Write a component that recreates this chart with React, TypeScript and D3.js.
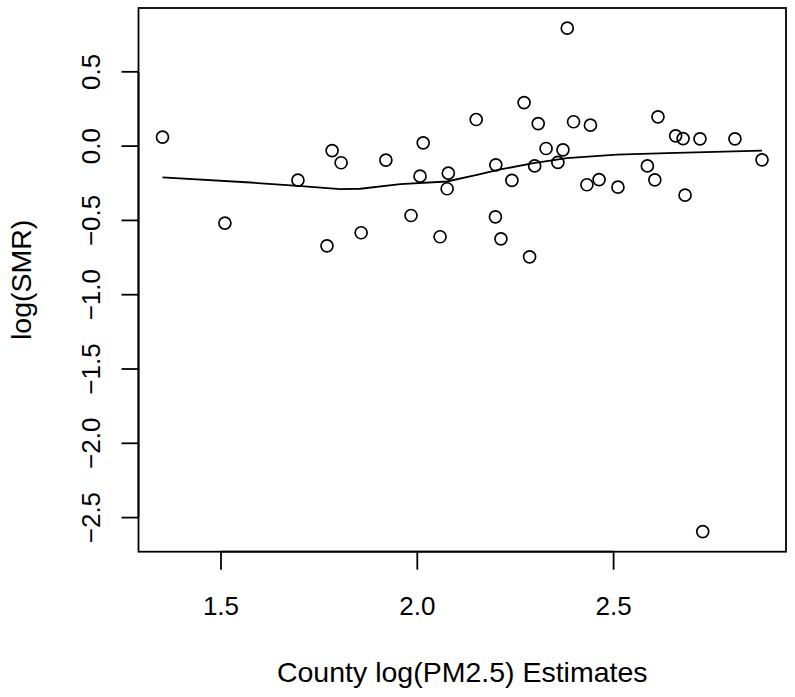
import React from "react";
import * as d3 from "d3";

const pm25 = [
  1.351, 1.510, 1.696, 1.783, 1.806, 1.770, 1.857, 1.920, 1.984, 2.015,
  2.007, 2.079, 2.076, 2.058, 2.150, 2.200, 2.199, 2.213, 2.241, 2.272,
  2.286, 2.308, 2.299, 2.328, 2.358, 2.371, 2.398, 2.441, 2.432, 2.463,
  2.511, 2.613, 2.586, 2.605, 2.658, 2.677, 2.682, 2.720, 2.809, 2.878,
  2.382, 2.727,
];
const logSMR = [
  0.061, -0.518, -0.229, -0.030, -0.112, -0.671, -0.583, -0.094, -0.467, 0.022,
  -0.202, -0.182, -0.287, -0.610, 0.179, -0.126, -0.476, -0.624, -0.231, 0.293,
  -0.745, 0.152, -0.133, -0.016, -0.110, -0.025, 0.164, 0.141, -0.260, -0.225,
  -0.276, 0.197, -0.133, -0.227, 0.069, 0.051, -0.330, 0.049, 0.049, -0.092,
  0.794, -2.594,
];
const smoothX = [1.351, 1.575, 1.696, 1.804, 1.855, 1.957, 2.075, 2.152, 2.211, 2.296, 2.381, 2.508, 2.636, 2.878];
const smoothY = [-0.211, -0.245, -0.268, -0.289, -0.287, -0.256, -0.238, -0.193, -0.157, -0.115, -0.081, -0.057, -0.047, -0.030];
const xTicks = [1.5, 2.0, 2.5];
const yTicks = [-2.5, -2.0, -1.5, -1.0, -0.5, 0.0, 0.5];
const xLabel = "County log(PM2.5) Estimates";
const yLabel = "log(SMR)";

const W = 795;
const H = 697;
const left = 138.5, right = 786, top = 8, bottom = 551.7;
const font = "'Liberation Sans', Arial, Helvetica, sans-serif";

function pad(ext: [number, number]): [number, number] {
  const r = ext[1] - ext[0];
  return [ext[0] - 0.04 * r, ext[1] + 0.04 * r];
}

const fmt = (v: number) => {
  const s = v.toFixed(1);
  return v < 0 ? "\u2212" + s.slice(1) : s;
};

export default function App() {
  const x = d3.scaleLinear().domain(pad(d3.extent(pm25) as [number, number])).range([left, right]);
  const y = d3.scaleLinear().domain(pad(d3.extent(logSMR) as [number, number])).range([bottom, top]);
  const line = d3
    .line<number>()
    .x((_, i) => x(smoothX[i]))
    .y((d) => y(d));
  const pathD = line(smoothY) || "";

  return (
    <svg
      width={W}
      height={H}
      style={{ position: "absolute", left: 0, top: 0, background: "#fff" }}
      fontFamily={font}
    >
      <rect x={0} y={0} width={W} height={H} fill="#fff" />
      {/* points */}
      {pm25.map((v, i) => (
        <circle key={i} cx={x(v)} cy={y(logSMR[i])} r={6} fill="none" stroke="#000" strokeWidth={1.7} />
      ))}
      {/* smooth */}
      <path d={pathD} fill="none" stroke="#000" strokeWidth={1.8} />
      {/* box */}
      <rect x={left} y={top} width={right - left} height={bottom - top} fill="none" stroke="#000" strokeWidth={1.8} />
      {/* x axis */}
      <line x1={x(xTicks[0])} x2={x(xTicks[xTicks.length - 1])} y1={bottom} y2={bottom} stroke="#000" strokeWidth={1.8} />
      {xTicks.map((t) => (
        <g key={t}>
          <line x1={x(t)} x2={x(t)} y1={bottom} y2={bottom + 18} stroke="#000" strokeWidth={1.8} />
          <text x={x(t)} y={615} textAnchor="middle" fontSize={26}>
            {fmt(t)}
          </text>
        </g>
      ))}
      {/* y axis */}
      <line x1={left} x2={left} y1={y(yTicks[0])} y2={y(yTicks[yTicks.length - 1])} stroke="#000" strokeWidth={1.8} />
      {yTicks.map((t) => (
        <g key={t}>
          <line x1={left - 17} x2={left} y1={y(t)} y2={y(t)} stroke="#000" strokeWidth={1.8} />
          <text transform={`translate(100,${y(t)}) rotate(-90)`} textAnchor="middle" fontSize={26}>
            {fmt(t)}
          </text>
        </g>
      ))}
      <text x={(left + right) / 2} y={681.7} textAnchor="middle" fontSize={28.5}>
        {xLabel}
      </text>
      <text transform={`translate(31,${(top + bottom) / 2}) rotate(-90)`} textAnchor="middle" fontSize={28.5}>
        {yLabel}
      </text>
    </svg>
  );
}
